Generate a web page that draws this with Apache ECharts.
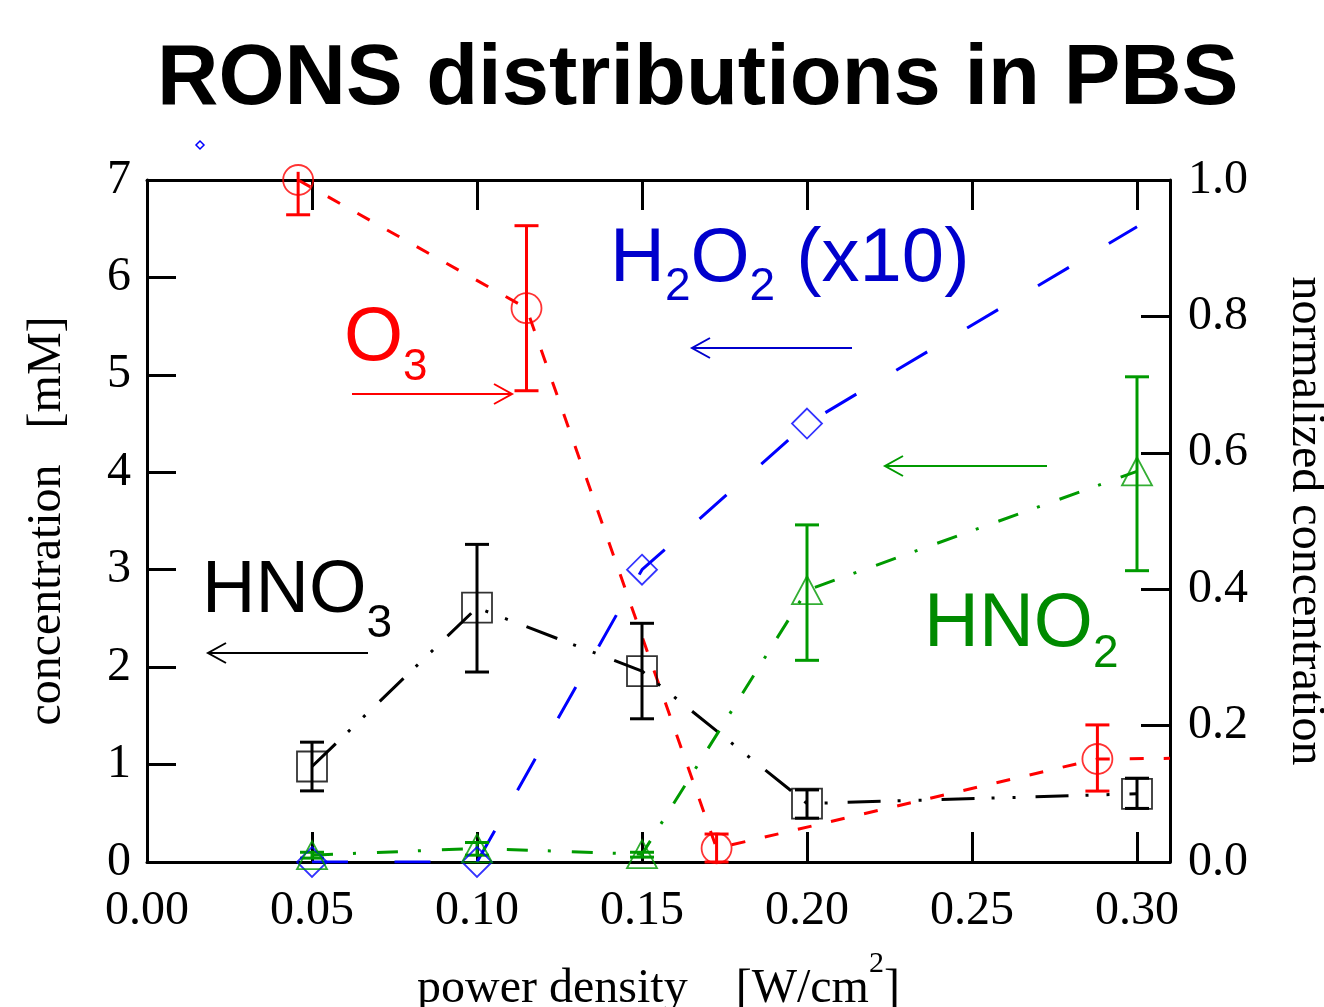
<!DOCTYPE html>
<html><head><meta charset="utf-8">
<script src="https://cdn.jsdelivr.net/npm/echarts@6/dist/echarts.min.js"></script>
<style>html,body{margin:0;padding:0;background:#fff}#c{width:1324px;height:1007px}</style>
</head><body><div id="c"></div>
<script>
// ---------------- data ----------------
// O3 (normalized concentration, right axis)
const o3X = [0.0458, 0.115, 0.1726, 0.288];
const o3Y = [1.0, 0.812, 0.02, 0.151];
const o3Lo = [0.949, 0.691, 0.0, 0.104];
const o3Hi = [1.012, 0.933, 0.041, 0.201];
const o3CurveX = [0.0458, 0.115, 0.1726, 0.288, 0.31];
const o3CurveY = [1.0, 0.812, 0.02, 0.151, 0.152];

// H2O2 (x10), left axis
const h2o2X = [0.05, 0.10, 0.15, 0.20];
const h2o2Y = [0.0, 0.0, 3.0, 4.5];
const h2o2CurveX = [0.05, 0.10, 0.15, 0.20, 0.30];
const h2o2CurveY = [0.0, 0.0, 3.0, 4.5, 6.52];

// HNO3, left axis
const hno3X = [0.05, 0.10, 0.15, 0.20, 0.30];
const hno3Y = [0.98, 2.61, 1.96, 0.60, 0.70];
const hno3Lo = [0.73, 1.95, 1.47, 0.45, 0.55];
const hno3Hi = [1.23, 3.26, 2.45, 0.74, 0.86];

// HNO2, left axis
const hno2X = [0.05, 0.10, 0.15, 0.20, 0.30];
const hno2Y = [0.07, 0.14, 0.08, 2.79, 4.01];
const hno2Lo = [0.04, 0.07, 0.05, 2.07, 2.99];
const hno2Hi = [0.10, 0.20, 0.10, 3.46, 4.98];

// axes
const xMin = 0, xMax = 0.31, xStep = 0.05;
const yLeftMin = 0, yLeftMax = 7, yLeftStep = 1;
const yRightMin = 0, yRightMax = 1, yRightStep = 0.2;

// ---------------- styles ----------------
const SERIF = '"Liberation Serif", "Times New Roman", serif';
const SANS = '"Liberation Sans", Arial, sans-serif';
const RED = '#ff0000', BLUE = '#0000ff', BLACK = '#000000', GREEN = '#009a00';
const BLUE_TXT = '#0000cc', GREEN_TXT = '#008a00';

const zip = (xs, ys) => xs.map((x, i) => [x, ys[i]]);
const zip3 = (xs, a, b) => xs.map((x, i) => [x, a[i], b[i]]);

function curve(name, xs, ys, color, dash, yAxisIndex) {
  return {
    type: 'line', name, data: zip(xs, ys), xAxisIndex: 0, yAxisIndex,
    symbol: 'none', showSymbol: false, z: 2, silent: true, animation: false,
    lineStyle: { color, width: 3, type: dash, cap: 'butt' }
  };
}
function markers(name, xs, ys, color, symbol, size, yAxisIndex) {
  return {
    type: 'scatter', name, data: zip(xs, ys), xAxisIndex: 0, yAxisIndex,
    symbol, symbolSize: size, z: 5, clip: false, silent: true, animation: false,
    itemStyle: { color: 'rgba(0,0,0,0)', borderColor: color, borderWidth: 1.8 }
  };
}
function errbars(name, xs, lo, hi, color, yAxisIndex, yTop) {
  return {
    type: 'custom', name, data: zip3(xs, lo, hi), xAxisIndex: 0, yAxisIndex,
    z: 4, silent: true, animation: false,
    encode: { x: 0, y: [1, 2] },
    renderItem: function (params, api) {
      const x = api.value(0), l = api.value(1), h = api.value(2);
      const pL = api.coord([x, l]);
      const pH = api.coord([x, h]);
      const cw = 12;
      const st = { stroke: color, lineWidth: 3 };
      const ch = [
        { type: 'line', shape: { x1: pL[0], y1: pL[1], x2: pH[0], y2: pH[1] }, style: st },
        { type: 'line', shape: { x1: pL[0] - cw, y1: pL[1], x2: pL[0] + cw, y2: pL[1] }, style: st }
      ];
      if (h <= yTop) ch.push({ type: 'line', shape: { x1: pH[0] - cw, y1: pH[1], x2: pH[0] + cw, y2: pH[1] }, style: st });
      return { type: 'group', children: ch };
    }
  };
}

function label(x, y, main, sub, rest, color, f, s, pad) {
  let text = '{m|' + main + '}{s|' + sub + '}';
  if (rest) text += rest;
  return {
    type: 'text', x, y, z: 10, silent: true,
    style: {
      x: 0, y: 0, text, fill: color, verticalAlign: 'top', align: 'left',
      rich: {
        m: { fontFamily: SANS, fontSize: f, lineHeight: f, verticalAlign: 'top', fill: color },
        s: { fontFamily: SANS, fontSize: s, lineHeight: s, verticalAlign: 'top', padding: [pad, 0, 0, 0], fill: color }
      }
    }
  };
}
function arrow(x1, y1, x2, y2, color) {
  const d = x2 > x1 ? 1 : -1;
  return {
    type: 'group', silent: true, z: 10,
    children: [
      { type: 'line', shape: { x1, y1, x2, y2 }, style: { stroke: color, lineWidth: 2 } },
      { type: 'polyline', shape: { points: [[x2 - d * 18, y2 - 10], [x2, y2], [x2 - d * 18, y2 + 10]] }, style: { stroke: color, lineWidth: 2, fill: null } }
    ]
  };
}

const axisLineStyle = { color: BLACK, width: 3 };
const tickStyle = { color: BLACK, width: 3 };

const option = {
  animation: false,
  backgroundColor: '#ffffff',
  title: {
    text: 'RONS distributions in PBS', left: 157, top: 38, padding: 0,
    textStyle: { fontFamily: SANS, fontSize: 85, fontWeight: 'bold', color: BLACK }
  },
  grid: { left: 147, right: 154, top: 180, bottom: 145, containLabel: false, outerBoundsMode: 'none' },
  xAxis: [
    {
      type: 'value', min: xMin, max: xMax, interval: xStep, position: 'bottom',
      axisLine: { show: true, onZero: false, lineStyle: axisLineStyle },
      axisTick: { show: true, inside: true, length: 30, lineStyle: tickStyle },
      axisLabel: { margin: 25, fontFamily: SERIF, fontSize: 48, color: BLACK, showMaxLabel: false,
        formatter: v => v.toFixed(2) },
      splitLine: { show: false },
      name: '{a|power density    [W/cm}{s|2}{a|]}', nameLocation: 'middle', nameGap: 87,
      nameTextStyle: {
        rich: {
          a: { fontFamily: SERIF, fontSize: 48, color: BLACK, lineHeight: 64, verticalAlign: 'bottom' },
          s: { fontFamily: SERIF, fontSize: 30, color: BLACK, lineHeight: 30, verticalAlign: 'top' }
        }
      }
    },
    {
      type: 'value', min: xMin, max: xMax, interval: xStep, position: 'top',
      axisLine: { show: true, onZero: false, lineStyle: axisLineStyle },
      axisTick: { show: true, inside: true, length: 30, lineStyle: tickStyle },
      axisLabel: { show: false }, splitLine: { show: false }
    }
  ],
  yAxis: [
    {
      type: 'value', min: yLeftMin, max: yLeftMax, interval: yLeftStep, position: 'left',
      axisLine: { show: true, onZero: false, lineStyle: axisLineStyle },
      axisTick: { show: true, inside: true, length: 29, lineStyle: tickStyle },
      axisLabel: { margin: 16, fontFamily: SERIF, fontSize: 48, color: BLACK },
      splitLine: { show: false },
      name: 'concentration   [mM]', nameLocation: 'middle', nameRotate: 90, nameGap: 76,
      nameTextStyle: { fontFamily: SERIF, fontSize: 48, color: BLACK }
    },
    {
      type: 'value', min: yRightMin, max: yRightMax, interval: yRightStep, position: 'right',
      axisLine: { show: true, onZero: false, lineStyle: axisLineStyle },
      axisTick: { show: true, inside: true, length: 29, lineStyle: tickStyle },
      axisLabel: { margin: 18, fontFamily: SERIF, fontSize: 48, color: BLACK, formatter: v => v.toFixed(1) },
      splitLine: { show: false },
      name: 'normalized concentration', nameLocation: 'middle', nameRotate: -90, nameGap: 112,
      nameTextStyle: { fontFamily: SERIF, fontSize: 48, color: BLACK }
    }
  ],
  series: [
    curve('O3 curve', o3CurveX, o3CurveY, RED, [14, 20], 1),
    curve('H2O2 curve', h2o2CurveX, h2o2CurveY, BLUE, [36, 46.5], 0),
    curve('HNO3 curve', hno3X, hno3Y, BLACK, [33, 17, 3, 18, 3, 20], 0),
    curve('HNO2 curve', hno2X, hno2Y, GREEN, [21, 20, 3, 21], 0),
    errbars('O3 err', o3X, o3Lo, o3Hi, RED, 1, yRightMax),
    errbars('HNO3 err', hno3X, hno3Lo, hno3Hi, BLACK, 0, yLeftMax),
    errbars('HNO2 err', hno2X, hno2Lo, hno2Hi, GREEN, 0, yLeftMax),
    markers('O3', o3X, o3Y, RED, 'circle', 30, 1),
    markers('H2O2 (x10)', h2o2X, h2o2Y, BLUE, 'diamond', 30, 0),
    markers('HNO3', hno3X, hno3Y, BLACK, 'rect', 30, 0),
    markers('HNO2', hno2X, hno2Y, GREEN, 'triangle', [30, 28], 0)
  ],
  graphic: [
    label(344, 301, 'O', '3', '', RED, 76, 44, 45),
    arrow(352, 394, 512, 394, RED),
    label(610, 222, 'H', '2', '{m|O}{s|2}{m| (x10)}', BLUE_TXT, 76, 46, 42),
    arrow(852, 348, 692, 348, BLUE_TXT),
    label(202, 555, 'HNO', '3', '', BLACK, 74, 46, 46),
    arrow(368, 653, 208, 653, BLACK),
    label(924, 587, 'HNO', '2', '', GREEN_TXT, 76, 46, 44),
    arrow(1047, 466, 885, 466, GREEN),
    { type: 'polygon', silent: true, shape: { points: [[200, 141], [204, 145], [200, 149], [196, 145]] },
      style: { stroke: BLUE, lineWidth: 1.5, fill: null } }
  ]
};

const chart = echarts.init(document.getElementById('c'), null, { renderer: 'canvas' });
chart.setOption(option);
</script>
</body></html>
